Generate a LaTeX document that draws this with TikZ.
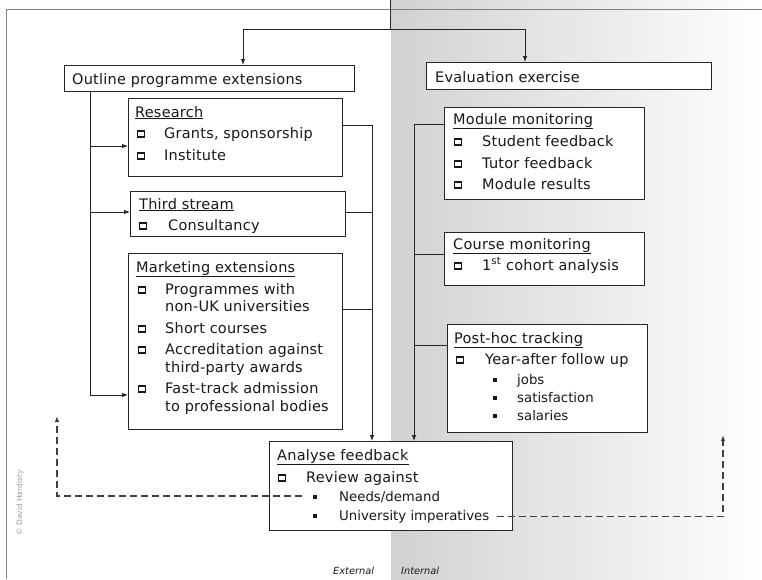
\documentclass[tikz,border=0pt]{standalone}
\usepackage{fontspec}
\setmainfont{DejaVu Sans}
\usetikzlibrary{arrows.meta,calc}
\newcommand\fs{\fontsize{14.5}{17}\selectfont\addfontfeature{LetterSpace=1.5}}
\newcommand\fsub{\fontsize{13.3}{15}\selectfont}
\newcommand\bx[5]{\node[box, minimum width=#4pt, minimum height=#5pt] (#1) at (#2,#3) {};}
\begin{document}
\begin{tikzpicture}[x=1pt,y=-1pt,
  box/.style={draw=black!85, line width=0.9pt, fill=white, anchor=north west, inner sep=0pt},
  txt/.style={anchor=base west, inner sep=0pt, font=\fs, text=black!90},
  subt/.style={anchor=base west, inner sep=0pt, font=\fsub, text=black!90},
  sq/.style={draw=black!90, line width=1.1pt, minimum width=7pt, minimum height=6pt, inner sep=0pt},
  dotb/.style={fill=black!90, minimum size=3.2pt, inner sep=0pt},
  link/.style={draw=black!85, line width=0.9pt},
  arr/.style={link, -{Latex[length=6pt,width=4.5pt]}},
  fb/.style={draw=black!75, line width=1.2pt, dash pattern=on 7pt off 4pt, -{Latex[length=6pt,width=4.5pt]}},
  frame/.style={draw=black!50, line width=0.8pt},
  small/.style={anchor=base west, inner sep=0pt, font=\fontsize{9.8}{11}\selectfont\itshape, text=black!90}
]
\useasboundingbox (0,0) rectangle (762,579);
% background
\shade[left color=black!18, right color=white] (391,0) rectangle (762,579);
\draw[frame] (6,579) -- (6,9) -- (762,9);

% boxes
\bx{outline}{64}{65}{290}{26}
\bx{eval}{426}{62}{285}{27}
\bx{research}{128}{98}{214}{78}
\bx{third}{130}{191}{215}{45}
\bx{marketing}{128}{253}{214}{176}
\bx{analyse}{269}{441}{243}{89}
\bx{module}{444}{107}{200}{92}
\bx{course}{444}{232}{200}{53}
\bx{posthoc}{447}{324}{200}{108}

% top split
\coordinate (top) at (390,0);
\coordinate (split) at (390,29);
\draw[link] (top) -- (split);
\draw[arr] (split) -- (243,29) -- (243,0 |- outline.north);
\draw[arr] (split) -- (525,29) -- (525,0 |- eval.north);

% left trunk
\draw[arr] (90,0 |- outline.south) |- (marketing.west |- 0,395);
\draw[arr] (90,146) -- (research.west |- 0,146);
\draw[arr] (90,212) -- (third.west |- 0,212);

% right collector
\draw[link] (research.east |- 0,125) -| (372,200);
\draw[link] (third.east |- 0,212) -- (372,212);
\draw[link] (marketing.east |- 0,309) -- (372,309);
\draw[arr] (372,125) -- (372,0 |- analyse.north);

% internal trunk
\draw[link] (module.west |- 0,124) -- (414,124);
\draw[link] (course.west |- 0,254) -- (414,254);
\draw[link] (posthoc.west |- 0,345) -- (414,345);
\draw[arr] (414,124) -- (414,0 |- analyse.north);

% texts
\node[txt] (t1) at (72,84) {Outline programme extensions};
\node[txt] (t2) at (435,82) {Evaluation exercise};

\node[txt] (r0) at (135,117) {\underline{Research}};
\node[sq] (rb1) at (141,134) {}; \node[txt] (r1) at (164,138) {Grants, sponsorship};
\node[sq] (rb2) at (141,156) {}; \node[txt] (r2) at (164,160) {Institute};

\node[txt] (s0) at (139,209) {\underline{Third stream}};
\node[sq] (sb1) at (143,226) {}; \node[txt] (s1) at (168,230) {Consultancy};

\node[txt] (m0) at (136,272) {\underline{Marketing extensions}};
\node[sq] (mb1) at (142,290) {}; \node[txt] (m1) at (165,294) {Programmes with};
\node[txt] (m1b) at (165,311) {non-UK universities};
\node[sq] (mb2) at (142,329) {}; \node[txt] (m2) at (165,333) {Short courses};
\node[sq] (mb3) at (142,350) {}; \node[txt] (m3) at (165,354) {Accreditation against};
\node[txt] (m3b) at (165,372) {third-party awards};
\node[sq] (mb4) at (142,389) {}; \node[txt] (m4) at (165,393) {Fast-track admission};
\node[txt] (m4b) at (165,411) {to professional bodies};

\node[txt] (a0) at (277,460) {\underline{Analyse feedback}};
\node[sq] (ab1) at (282,478) {}; \node[txt] (a1) at (306,482) {Review against};
\node[dotb] (ad1) at (315,497) {}; \node[subt] (a2) at (339,501) {Needs/demand};
\node[dotb] (ad2) at (315,516) {}; \node[subt] (a3) at (339,520) {University imperatives};

\node[txt] (e0) at (453,124) {\underline{Module monitoring}};
\node[sq] (eb1) at (458,142) {}; \node[txt] (e1) at (482,146) {Student feedback};
\node[sq] (eb2) at (458,164) {}; \node[txt] (e2) at (482,168) {Tutor feedback};
\node[sq] (eb3) at (458,185) {}; \node[txt] (e3) at (482,189) {Module results};

\node[txt] (c0) at (453,249) {\underline{Course monitoring}};
\node[sq] (cb1) at (458,266) {}; \node[txt] (c1) at (482,270) {1\textsuperscript{st} cohort analysis};

\node[txt] (p0) at (454,343) {\underline{Post-hoc tracking}};
\node[sq] (pb1) at (460,360) {}; \node[txt] (p1) at (485,364) {Year-after follow up};
\node[dotb] (pd1) at (495,380) {}; \node[subt] (p2) at (517,384) {jobs};
\node[dotb] (pd2) at (495,398) {}; \node[subt] (p3) at (517,402) {satisfaction};
\node[dotb] (pd3) at (495,416) {}; \node[subt] (p4) at (517,420) {salaries};

% feedback dashed loops
\coordinate (fbL) at (302,496);
\coordinate (fbLend) at (57,416);
\coordinate (fbR) at ($(a3.east)+(7,0)$);
\coordinate (fbRend) at (723,435);
\draw[fb] (fbL) -| (fbLend);
\draw[fb] (fbR) -| (fbRend);

% footer labels
\node[small] (ext) at (333,574) {External};
\node[small] (int) at (401,574) {Internal};
\node[rotate=90, inner sep=0pt, font=\fontsize{7.5}{8}\selectfont, text=black!40] (copy) at (20,503) {© David Hardisty};
\end{tikzpicture}
\end{document}
